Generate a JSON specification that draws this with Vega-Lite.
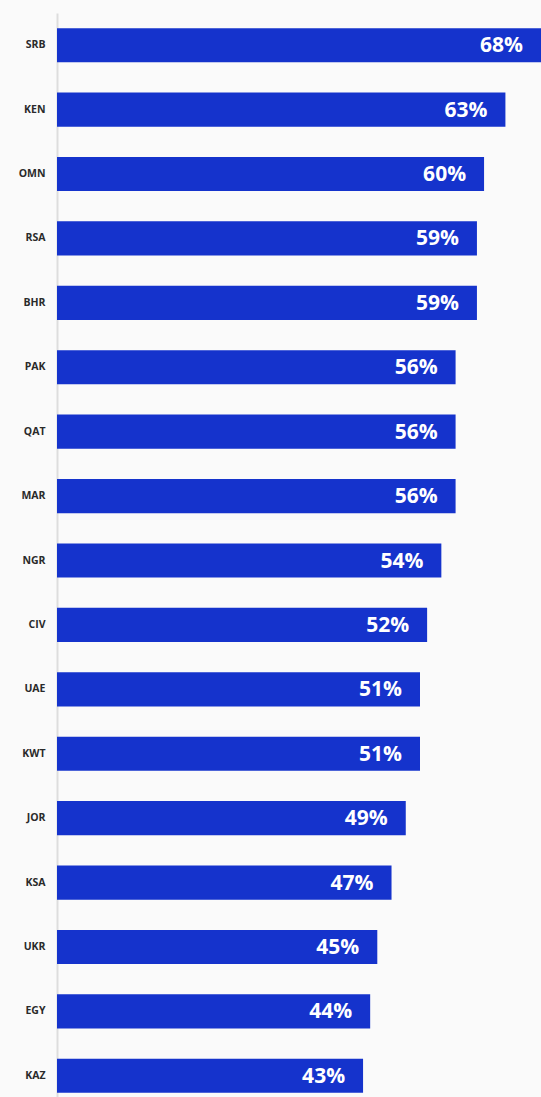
{
  "$schema": "https://vega.github.io/schema/vega-lite/v6.json",
  "autosize": "none",
  "padding": {"left": 57, "top": 13, "right": 0, "bottom": 0},
  "width": 484,
  "height": 1095,
  "background": "#fafafa",
  "config": {"view": {"stroke": null}},
  "data": {"values": [
    {"country": "SRB", "value": 68, "label": "68%"},
    {"country": "KEN", "value": 63, "label": "63%"},
    {"country": "OMN", "value": 60, "label": "60%"},
    {"country": "RSA", "value": 59, "label": "59%"},
    {"country": "BHR", "value": 59, "label": "59%"},
    {"country": "PAK", "value": 56, "label": "56%"},
    {"country": "QAT", "value": 56, "label": "56%"},
    {"country": "MAR", "value": 56, "label": "56%"},
    {"country": "NGR", "value": 54, "label": "54%"},
    {"country": "CIV", "value": 52, "label": "52%"},
    {"country": "UAE", "value": 51, "label": "51%"},
    {"country": "KWT", "value": 51, "label": "51%"},
    {"country": "JOR", "value": 49, "label": "49%"},
    {"country": "KSA", "value": 47, "label": "47%"},
    {"country": "UKR", "value": 45, "label": "45%"},
    {"country": "EGY", "value": 44, "label": "44%"},
    {"country": "KAZ", "value": 43, "label": "43%"}
  ]},
  "encoding": {
    "y": {"field": "country", "type": "nominal", "sort": null,
      "scale": {"paddingInner": 0.47, "paddingOuter": 0.235},
      "axis": {"title": null, "ticks": false, "domainColor": "#dddddd", "domainWidth": 2,
        "labelFont": "Open Sans", "labelFontWeight": "bold", "labelFontSize": 10.5, "labelColor": "#2a2a2a", "labelPadding": 12}},
    "x": {"field": "value", "type": "quantitative", "scale": {"domain": [0, 68], "nice": false}, "axis": null}
  },
  "layer": [
    {"mark": {"type": "bar", "color": "#1533cc"}},
    {"mark": {"type": "text", "align": "right", "baseline": "middle", "dx": -18, "dy": 1, "color": "white", "font": "Open Sans", "fontWeight": "bold", "fontSize": 21},
     "encoding": {"text": {"field": "label", "type": "nominal"}}}
  ]
}
